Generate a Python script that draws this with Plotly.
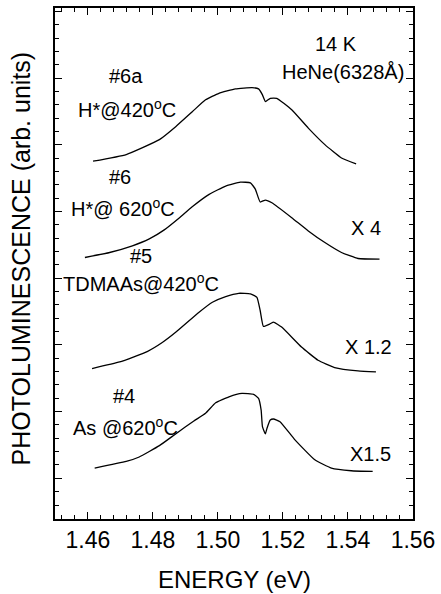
import plotly.graph_objects as go

# Spectra (energy in eV, intensity in arbitrary offset units)
e_6a = [1.4616, 1.4718, 1.4820, 1.4871, 1.4922, 1.4962, 1.5003, 1.5054, 1.5105, 1.5125,
        1.5137, 1.5146, 1.5161, 1.5181, 1.5227, 1.5278, 1.5329, 1.5380, 1.5425]
i_6a = [5.366, 5.466, 5.690, 5.888, 6.112, 6.287, 6.385, 6.451, 6.470, 6.451,
        6.361, 6.261, 6.310, 6.310, 6.137, 5.863, 5.615, 5.415, 5.325]

e_6 = [1.4591, 1.4667, 1.4737, 1.4789, 1.4835, 1.4881, 1.4920, 1.4973, 1.5024, 1.5069,
       1.5100, 1.5115, 1.5130, 1.5146, 1.5166, 1.5227, 1.5278, 1.5329, 1.5380, 1.5431,
       1.5497]
i_6 = [3.922, 3.997, 4.097, 4.201, 4.336, 4.515, 4.679, 4.869, 4.993, 5.052,
       5.042, 4.948, 4.754, 4.784, 4.743, 4.519, 4.321, 4.146, 3.997, 3.907,
       3.899]

e_5 = [1.4613, 1.4698, 1.4784, 1.4830, 1.4871, 1.4942, 1.4983, 1.5024, 1.5064, 1.5100,
       1.5120, 1.5130, 1.5140, 1.5161, 1.5171, 1.5196, 1.5257, 1.5308, 1.5359, 1.5431,
       1.5486]
i_5 = [2.257, 2.355, 2.515, 2.650, 2.803, 3.101, 3.251, 3.336, 3.385, 3.376,
       3.325, 3.127, 2.888, 2.928, 2.952, 2.878, 2.579, 2.381, 2.272, 2.221,
       2.206]

e_4 = [1.4621, 1.4718, 1.4758, 1.4820, 1.4871, 1.4926, 1.4962, 1.4993, 1.5034, 1.5074,
       1.5110, 1.5125, 1.5133, 1.5137, 1.5146, 1.5151, 1.5161, 1.5171, 1.5191, 1.5237,
       1.5298, 1.5349, 1.5410, 1.5476]
i_4 = [0.764, 0.863, 0.930, 1.100, 1.280, 1.470, 1.585, 1.743, 1.833, 1.884,
       1.869, 1.809, 1.634, 1.385, 1.276, 1.361, 1.485, 1.500, 1.460, 1.187,
       0.888, 0.764, 0.724, 0.713]

series = [(e_6a, i_6a), (e_6, i_6), (e_5, i_5), (e_4, i_4)]

x_tick_vals = [1.46, 1.48, 1.50, 1.52, 1.54, 1.56]
x_tick_text = ["1.46", "1.48", "1.50", "1.52", "1.54", "1.56"]

label_texts = ["14 K", "HeNe(6328Å)", "#6a", "H*@420<sup>o</sup>C", "#6",
               "H*@ 620<sup>o</sup>C", "X 4", "#5", "TDMAAs@420<sup>o</sup>C",
               "X 1.2", "#4", "As @620<sup>o</sup>C", "X1.5"]

x_title = "ENERGY (eV)"
y_title = "PHOTOLUMINESCENCE (arb. units)"

# layout positions for the in-plot labels (data coordinates)
label_pos = [(1.5363, 7.12), (1.5385, 6.70), (1.4716, 6.65), (1.4719, 6.16),
             (1.4698, 5.13), (1.4707, 4.67), (1.5455, 4.37), (1.4765, 3.94),
             (1.4762, 3.55), (1.5464, 2.58), (1.4710, 1.85), (1.4716, 1.39),
             (1.5470, 0.98)]

FONT = "Liberation Sans, Arial, sans-serif"

fig = go.Figure()
for ex, iy in series:
    fig.add_trace(go.Scatter(x=ex, y=iy, mode="lines",
                             line=dict(color="black", width=1.3, shape="spline", smoothing=0.4),
                             showlegend=False, hoverinfo="skip"))

annotations = []
for t, (ax, ay) in zip(label_texts, label_pos):
    annotations.append(dict(x=ax, y=ay, xref="x", yref="y", text=t, showarrow=False,
                            font=dict(family=FONT, size=20, color="black"),
                            xanchor="center", yanchor="middle"))
annotations.append(dict(x=0.5, y=0, xref="paper", yref="paper", text=x_title,
                        showarrow=False, yshift=-60, yanchor="middle",
                        font=dict(family=FONT, size=24, color="black")))
annotations.append(dict(x=0, y=0.51, xref="paper", yref="paper", text=y_title,
                        showarrow=False, xshift=-34, xanchor="center", yanchor="middle",
                        textangle=-90, font=dict(family=FONT, size=25, color="black")))

fig.update_layout(
    width=441, height=594,
    margin=dict(l=55, r=25.5, t=6, b=74.5),
    paper_bgcolor="white", plot_bgcolor="white",
    font=dict(family=FONT, color="black"),
    annotations=annotations,
    xaxis=dict(range=[1.4499, 1.56], tickvals=x_tick_vals, ticktext=x_tick_text,
               ticks="inside", ticklen=7, tickwidth=1.3, tickcolor="black",
               minor=dict(dtick=0.004, tick0=1.46, ticks="inside", ticklen=4,
                          tickwidth=1.2, tickcolor="black"),
               showline=True, linecolor="black", linewidth=1.6, mirror="allticks",
               showgrid=False, zeroline=False, tickfont=dict(size=23, family=FONT)),
    yaxis=dict(range=[0, 7.664], tick0=0.61, dtick=1, showticklabels=False,
               ticks="inside", ticklen=7, tickwidth=1.3, tickcolor="black",
               minor=dict(dtick=0.2, tick0=0.61, ticks="inside", ticklen=4,
                          tickwidth=1.2, tickcolor="black"),
               showline=True, linecolor="black", linewidth=1.6, mirror="allticks",
               showgrid=False, zeroline=False),
)

fig.write_html("out.html", config={"displayModeBar": False},
               post_script="document.body.style.margin='0';document.body.style.overflow='hidden';")
